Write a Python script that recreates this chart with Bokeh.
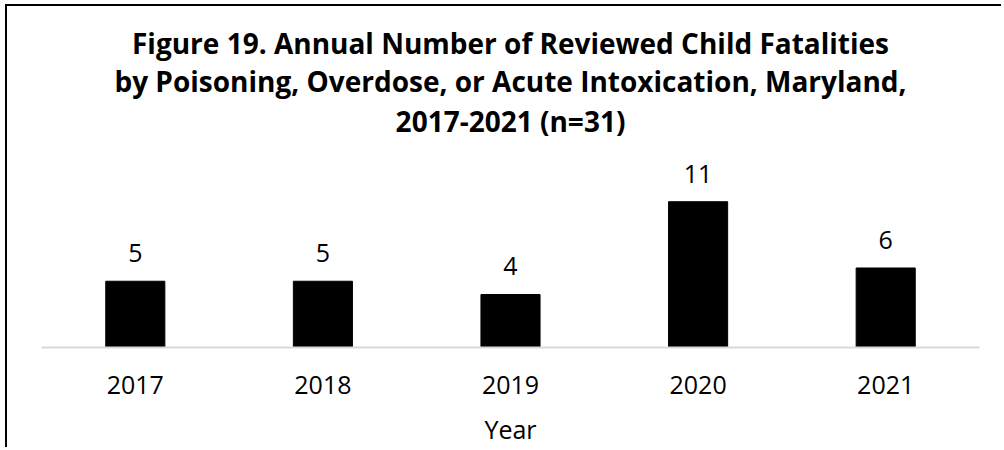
from bokeh.plotting import figure
from bokeh.models import ColumnDataSource, Title, FactorRange, Range1d
from bokeh.core.properties import value
from bokeh.embed import file_html
from bokeh.resources import INLINE

years = ["2017", "2018", "2019", "2020", "2021"]
counts = [5, 5, 4, 11, 6]
labels = [str(c) for c in counts]
title_lines = [
    "Figure 19. Annual Number of Reviewed Child Fatalities",
    "by Poisoning, Overdose, or Acute Intoxication, Maryland,",
    "2017-2021 (n=31)",
]
x_label = "Year"

FONT = "Open Sans"

src = ColumnDataSource(dict(year=years, count=counts, label=labels))

p = figure(
    x_range=FactorRange(*years, range_padding=0),
    y_range=Range1d(0, 15.62),
    width=996, height=443,
    output_backend="svg", toolbar_location=None, title=None,
    min_border_left=34, min_border_right=24,
    min_border_top=134, min_border_bottom=102,
)
p.styles = {"border-top": "2px solid #000", "border-left": "2px solid #000",
            "margin-left": "5px", "margin-top": "4px"}

# titles are stacked outward from the plot frame: add the last line first
title_standoffs = [0, -3, 2]
for line, so in reversed(list(zip(title_lines, title_standoffs))):
    t = Title(text=line, align="center", text_font=FONT, text_font_size="28px",
              text_font_style="bold", text_color="#000000", standoff=so)
    p.add_layout(t, "above")

p.vbar(x="year", top="count", width=0.315, source=src, color="#000000")
p.text(x="year", y="count", text="label", source=src, text_align="center",
       text_baseline="alphabetic", y_offset=-28, text_font=value(FONT),
       text_font_size="25px", text_color="#000000")

p.outline_line_color = None
p.xgrid.grid_line_color = None
p.ygrid.grid_line_color = None
p.yaxis.visible = False

ax = p.xaxis[0]
ax.axis_line_color = "#d9d9d9"
ax.axis_line_width = 2
ax.major_tick_line_color = None
ax.minor_tick_line_color = None
ax.major_tick_out = 0
ax.major_label_standoff = 28
ax.major_label_text_font = FONT
ax.major_label_text_font_size = "25px"
ax.major_label_text_color = "#000000"
ax.axis_label = x_label
ax.axis_label_text_font = FONT
ax.axis_label_text_font_size = "25px"
ax.axis_label_text_font_style = "normal"
ax.axis_label_text_color = "#000000"
ax.axis_label_standoff = 15

open("out.html", "w").write(file_html(p, INLINE))
